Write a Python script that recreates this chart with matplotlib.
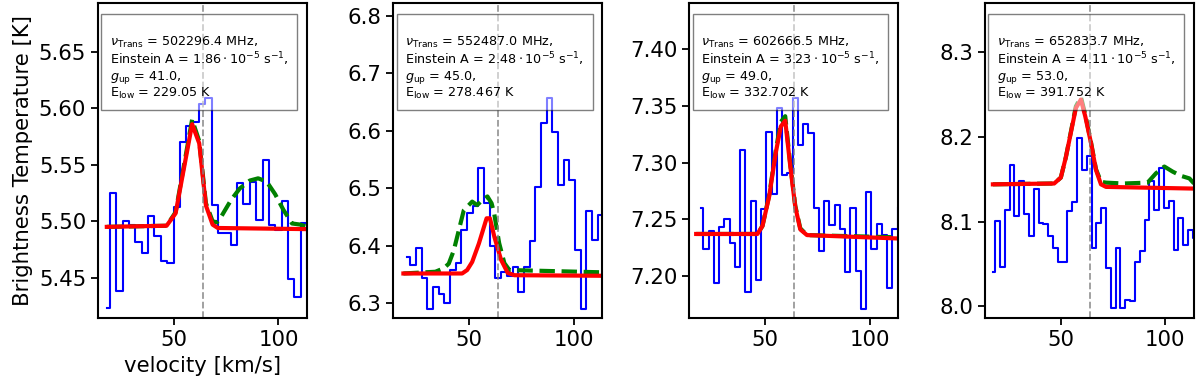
import matplotlib.pyplot as plt
from matplotlib.ticker import MultipleLocator
import numpy as np

v_lsr = 63.8
x_lim = (13.7, 113.7)

# observed spectra: first channel velocity, channel width [km/s], Tb [K]
v1_start, v1_width = 17.9, 3.04
tb1 = [5.423, 5.525, 5.438, 5.500, 5.497, 5.482, 5.472, 5.505, 5.487, 5.465,
       5.463, 5.513, 5.570, 5.584, 5.588, 5.604, 5.609, 5.514, 5.490, 5.490,
       5.479, 5.534, 5.515, 5.535, 5.501, 5.554, 5.497, 5.492, 5.518, 5.449,
       5.433, 5.498, 5.458]

v2_start, v2_width = 20.4, 2.72
tb2 = [6.381, 6.367, 6.396, 6.345, 6.291, 6.329, 6.317, 6.300, 6.358, 6.370,
       6.428, 6.457, 6.469, 6.535, 6.474, 6.399, 6.344, 6.355, 6.348, 6.364,
       6.320, 6.364, 6.408, 6.503, 6.614, 6.658, 6.599, 6.506, 6.550, 6.515,
       6.393, 6.291, 6.460, 6.410, 6.454]

v3_start, v3_width = 19.2, 2.51
tb3 = [7.260, 7.224, 7.240, 7.194, 7.243, 7.250, 7.229, 7.208, 7.311, 7.186,
       7.266, 7.196, 7.259, 7.327, 7.272, 7.348, 7.289, 7.291, 7.357, 7.316,
       7.334, 7.326, 7.260, 7.222, 7.266, 7.245, 7.263, 7.241, 7.203, 7.260,
       7.204, 7.171, 7.274, 7.224, 7.246, 7.236, 7.189, 7.241, 7.261]

v4_start, v4_width = 17.4, 2.307
tb4 = [8.041, 8.101, 8.047, 8.114, 8.167, 8.107, 8.148, 8.109, 8.083, 8.138,
       8.098, 8.097, 8.083, 8.069, 8.052, 8.053, 8.112, 8.123, 8.199, 8.161,
       8.178, 8.069, 8.098, 8.116, 8.045, 7.998, 8.069, 7.998, 8.008, 8.006,
       8.052, 8.065, 8.102, 8.148, 8.114, 8.163, 8.116, 8.124, 8.067, 8.104,
       8.073, 8.090, 8.081]

# single component fit (red)
fit1_v = [17.9, 46.5, 50.8, 58.7, 62.1, 65.3, 68.5, 71.0, 113.7]
fit1_t = [5.495, 5.496, 5.507, 5.586, 5.569, 5.514, 5.497, 5.494, 5.493]
fit2_v = [18.5, 46.6, 49.0, 51.4, 54.6, 58.3, 59.9, 62.0, 65.2, 68.4, 71.6, 113.7]
fit2_t = [6.352, 6.352, 6.358, 6.372, 6.404, 6.448, 6.448, 6.416, 6.376, 6.353, 6.349, 6.348]
fit3_v = [17.0, 46.3, 48.7, 51.9, 55.1, 57.5, 59.6, 62.0, 64.4, 66.8, 70.0, 113.7]
fit3_t = [7.237, 7.237, 7.244, 7.270, 7.309, 7.332, 7.337, 7.297, 7.261, 7.241, 7.236, 7.233]
fit4_v = [17.5, 46.8, 50.0, 52.4, 54.8, 57.2, 59.6, 61.7, 64.4, 66.8, 69.2, 71.6, 113.7]
fit4_t = [8.144, 8.145, 8.152, 8.176, 8.205, 8.234, 8.244, 8.224, 8.193, 8.161, 8.144, 8.141, 8.139]

# full model incl. blends (green dashed)
mod1_v = [17.9, 46.5, 50.8, 58.7, 62.1, 65.3, 68.5, 70.5, 72.6, 77.4, 81.5, 86.3,
          90.3, 94.4, 98.4, 102.4, 106.5, 110.5, 113.7]
mod1_t = [5.495, 5.496, 5.508, 5.590, 5.571, 5.516, 5.500, 5.499, 5.504, 5.519, 5.529,
          5.536, 5.538, 5.535, 5.524, 5.510, 5.498, 5.497, 5.495]
mod2_v = [18.5, 33.8, 37.8, 40.2, 42.6, 45.0, 47.4, 51.4, 53.8, 56.3, 58.7, 60.7,
          61.9, 64.3, 66.8, 69.2, 113.7]
mod2_t = [6.352, 6.355, 6.361, 6.369, 6.392, 6.427, 6.462, 6.477, 6.471, 6.480, 6.486,
          6.474, 6.457, 6.405, 6.370, 6.358, 6.354]
mod3_v = [17.0, 46.3, 48.7, 51.9, 55.1, 57.5, 59.6, 62.0, 64.4, 66.8, 70.0, 113.7]
mod3_t = [7.237, 7.237, 7.244, 7.271, 7.311, 7.336, 7.341, 7.299, 7.262, 7.242, 7.236, 7.234]
mod4_v = [17.5, 46.8, 50.0, 52.4, 54.8, 57.2, 59.6, 61.7, 64.4, 66.8, 69.2, 71.6, 80.0,
          91.5, 95.5, 99.5, 103.5, 107.5, 111.5, 113.7]
mod4_t = [8.144, 8.145, 8.152, 8.176, 8.206, 8.236, 8.247, 8.226, 8.194, 8.162, 8.147,
          8.146, 8.145, 8.146, 8.157, 8.165, 8.159, 8.154, 8.151, 8.145]

y_lims = [(5.414, 5.693), (6.274, 6.822), (7.1625, 7.4407), (7.986, 8.3575)]
y_steps = [0.05, 0.1, 0.05, 0.1]

freqs = ["502296.4", "552487.0", "602666.5", "652833.7"]
einstein_a = ["1.86", "2.48", "3.23", "4.11"]
g_up = ["41.0", "45.0", "49.0", "53.0"]
e_low = ["229.05", "278.467", "332.702", "391.752"]

spectra = [(v1_start, v1_width, tb1), (v2_start, v2_width, tb2),
           (v3_start, v3_width, tb3), (v4_start, v4_width, tb4)]
fits = [(fit1_v, fit1_t), (fit2_v, fit2_t), (fit3_v, fit3_t), (fit4_v, fit4_t)]
models = [(mod1_v, mod1_t), (mod2_v, mod2_t), (mod3_v, mod3_t), (mod4_v, mod4_t)]

fig = plt.figure(figsize=(12, 3.9), dpi=100)
lefts = [0.0817, 0.3278, 0.5744, 0.8208]

for i in range(4):
    ax = fig.add_axes([lefts[i], 0.1838, 0.1742, 0.8077])
    v0, dv, tb = spectra[i]
    vel = v0 + dv*np.arange(len(tb))
    ax.step(vel, tb, where='mid', color='b', lw=1.5)
    ax.plot(models[i][0], models[i][1], color='g', ls='--', lw=3)
    ax.plot(fits[i][0], fits[i][1], color='r', lw=3)
    ax.axvline(v_lsr, color='gray', ls='--', lw=1.3, alpha=0.8)

    ax.set_xlim(x_lim)
    ax.set_ylim(y_lims[i])
    ax.set_xticks([50, 100])
    ax.yaxis.set_major_locator(MultipleLocator(y_steps[i]))
    ax.tick_params(labelsize=15.3, width=1.3, length=5)
    for s in ax.spines.values():
        s.set_linewidth(1.5)

    txt = ("\n" + r"$\nu_{\rm Trans}$ = " + freqs[i] + " MHz,\n"
           + r"Einstein A = $" + einstein_a[i] + r"\cdot10^{-5}$ s$^{-1}$," + "\n"
           + r"$g_{\rm up}$ = " + g_up[i] + ",\n"
           + r"E$_{\rm low}$ = " + e_low[i] + " K")
    ax.text(0.057, 0.943, txt, transform=ax.transAxes, fontsize=9.2,
            va='top', ha='left', linespacing=1.05, zorder=10,
            bbox=dict(facecolor='white', alpha=0.5, pad=6.3))

    if i == 0:
        ax.set_ylabel('Brightness Temperature [K]', fontsize=15.3)
        ax.set_xlabel('velocity [km/s]', fontsize=15.3)

plt.savefig('out.png', dpi=100)
